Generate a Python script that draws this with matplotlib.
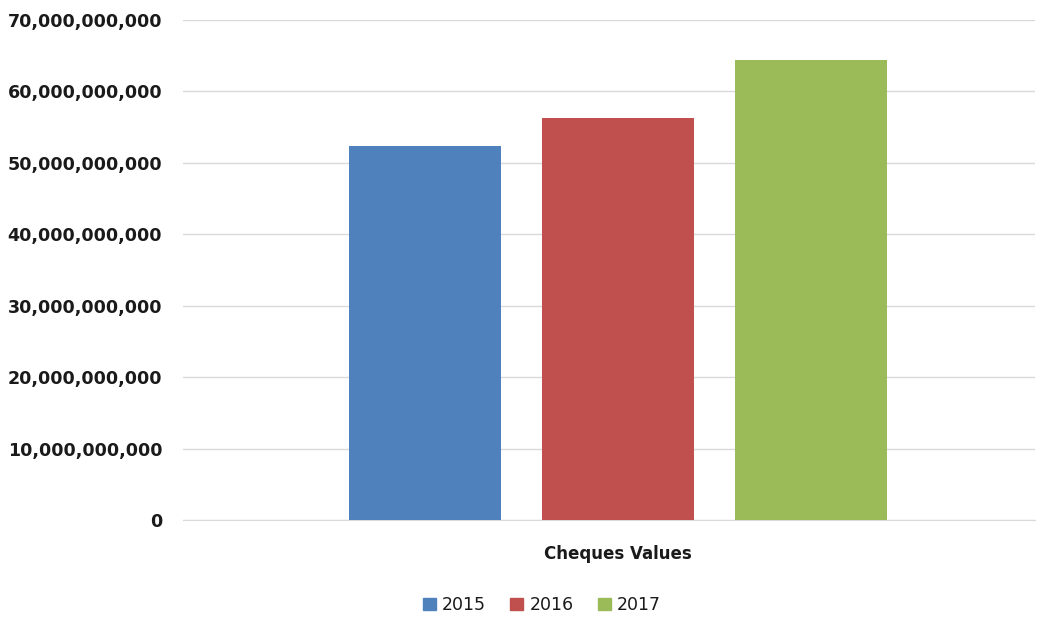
import matplotlib
matplotlib.use("Agg")
import matplotlib.pyplot as plt
from matplotlib.ticker import FuncFormatter, MultipleLocator
from matplotlib.patches import Patch

categories = ["Cheques Values"]
years = ["2015", "2016", "2017"]
values = [52.37e9, 56.33e9, 64.39e9]
colors = ["#4F81BD", "#C0504D", "#9BBB59"]

plt.rcParams['font.family'] = ['DejaVu Sans']

fig = plt.figure(figsize=(10.37, 6.19), dpi=100)
ax = fig.add_axes([183/1037, 1 - 520/619, (1035-183)/1037, 500/619])

offsets = [-1, 0, 1]
for off, v, c in zip(offsets, values, colors):
    ax.bar(off, v, width=0.79, color=c, zorder=3)

ax.set_ylim(0, 70e9)
ax.set_xlim(-2.254, 2.16)
ax.yaxis.set_major_locator(MultipleLocator(10e9))
ax.yaxis.set_major_formatter(FuncFormatter(lambda v, p: f"{int(round(v)):,}"))
ax.grid(axis='y', color='#D9D9D9', linewidth=1, zorder=0)
for s in ['top', 'right', 'left']:
    ax.spines[s].set_visible(False)
ax.spines['bottom'].set_color('#D9D9D9')
ax.tick_params(axis='both', length=0)
ax.tick_params(axis='y', pad=15)
ax.set_xticks([0])
ax.set_xticklabels(categories, fontsize=12, fontweight='bold', color='#1a1a1a')
ax.tick_params(axis='x', pad=18)
for lab in ax.get_yticklabels():
    lab.set_fontsize(12.6)
    lab.set_fontweight('bold')
    lab.set_color('#1a1a1a')

handles = [Patch(color=c, label=y) for y, c in zip(years, colors)]
fig.legend(handles=handles, loc='center', bbox_to_anchor=(542/1037, 1 - 605/619),
           ncol=3, frameon=False, fontsize=12.5, handlelength=0.75, handleheight=0.75,
           handletextpad=0.35, columnspacing=1.4, labelcolor='#1a1a1a')

fig.savefig("out.png", dpi=100)
